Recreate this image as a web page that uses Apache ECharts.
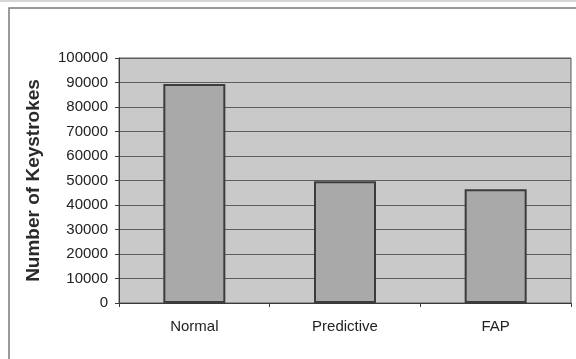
<!DOCTYPE html>
<html>
<head>
<meta charset="utf-8">
<script src="https://cdn.jsdelivr.net/npm/echarts@6/dist/echarts.min.js"></script>
<style>
  html, body { margin: 0; padding: 0; background: #ffffff; }
  #chart { width: 576px; height: 359px; }
</style>
</head>
<body>
<div id="chart"></div>
<script>
// Keystroke counts per input method
const categories = ['Normal', 'Predictive', 'FAP'];
const keystrokes = [89400, 49700, 46400];
const yTicks = { min: 0, max: 100000, interval: 10000 };
const yTitle = 'Number of Keystrokes';

const chart = echarts.init(document.getElementById('chart'), null, { renderer: 'canvas' });

chart.setOption({
  backgroundColor: '#ffffff',
  animation: false,
  grid: {
    left: 119, right: 5, top: 58, bottom: 56,
    show: true,
    backgroundColor: '#c9c9c9',
    borderColor: '#5a5a5a',
    borderWidth: 1
  },
  graphic: [
    {
      type: 'rect',
      shape: { x: 9, y: 8, width: 620, height: 400 },
      style: { fill: 'none', stroke: '#7a7a7a', lineWidth: 1.5 },
      silent: true
    },
    {
      type: 'line',
      shape: { x1: 0, y1: 1, x2: 576, y2: 1 },
      style: { stroke: '#d6d6d6', lineWidth: 2 },
      silent: true
    }
  ],
  xAxis: {
    type: 'category',
    data: categories,
    axisLine: { show: true, lineStyle: { color: '#3a3a3a', width: 1 } },
    axisTick: { show: true, length: 4, lineStyle: { color: '#3a3a3a' } },
    axisLabel: {
      color: '#222222',
      fontFamily: 'Liberation Sans, Arial, sans-serif',
      fontSize: 15,
      margin: 16
    },
    splitLine: { show: false }
  },
  yAxis: {
    type: 'value',
    min: yTicks.min,
    max: yTicks.max,
    interval: yTicks.interval,
    name: yTitle,
    nameLocation: 'middle',
    nameRotate: 90,
    nameGap: 76,
    nameTextStyle: {
      color: '#2a2a2a',
      fontFamily: 'Liberation Sans, Arial, sans-serif',
      fontSize: 19,
      fontWeight: 'bold'
    },
    axisLine: { show: true, lineStyle: { color: '#3a3a3a', width: 1 } },
    axisTick: { show: true, length: 4, lineStyle: { color: '#3a3a3a' } },
    axisLabel: {
      color: '#222222',
      fontFamily: 'Liberation Sans, Arial, sans-serif',
      fontSize: 15,
      margin: 11,
      formatter: (v) => String(v)
    },
    splitLine: { show: true, lineStyle: { color: '#5e5e5e', width: 1 } }
  },
  series: [{
    type: 'bar',
    data: keystrokes,
    barWidth: 62,
    itemStyle: {
      color: '#a9a9a9',
      borderColor: '#3c3c3c',
      borderWidth: 2
    }
  }]
});
</script>
</body>
</html>
